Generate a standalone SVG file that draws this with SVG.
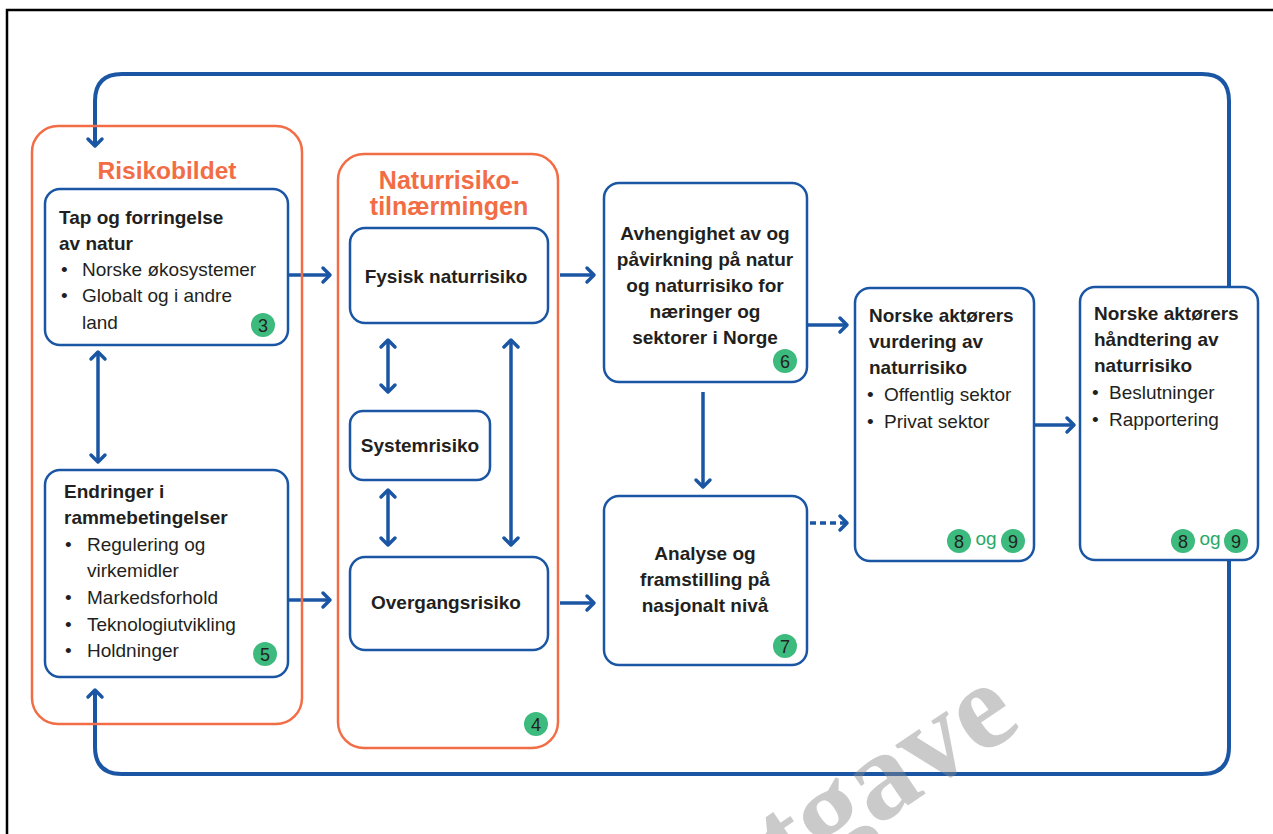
<svg xmlns="http://www.w3.org/2000/svg" width="1273" height="834" viewBox="0 0 1273 834">
<defs>
<style>
.frame{fill:none;stroke:#000;stroke-width:2.5}
.og{fill:none;stroke:#f26d45;stroke-width:2.5}
.bx{fill:#fff;stroke:#1b56a4;stroke-width:2.5}
.ln{fill:none;stroke:#1b56a4;stroke-width:3.5}
.loop{fill:none;stroke:#1b56a4;stroke-width:4}
.t{font-family:"Liberation Sans",Arial,sans-serif;font-size:19px;fill:#231f20}
.b{font-weight:bold}
.c{text-anchor:middle}
.ot{font-family:"Liberation Sans",Arial,sans-serif;font-weight:bold;fill:#f26d45;text-anchor:middle}
.badge{fill:#3dba7e}
.bn{font-family:"Liberation Sans",Arial,sans-serif;font-size:18px;fill:#231f20;text-anchor:middle}
.ogt{font-family:"Liberation Sans",Arial,sans-serif;font-size:19px;fill:#2aa866;text-anchor:middle}
.wm{font-family:"Liberation Serif","Times New Roman",serif;font-weight:bold;font-size:124px;fill:#8a8a8a;fill-opacity:0.45}
</style>
<marker id="ah" markerUnits="userSpaceOnUse" viewBox="-10 -10 14 20" markerWidth="14" markerHeight="20" refX="0" refY="0" orient="auto-start-reverse">
<path d="M-7,-7 L0,0 L-7,7" fill="none" stroke="#1b56a4" stroke-width="3.5" stroke-linecap="round" stroke-linejoin="round"/>
</marker>
</defs>
<rect width="1273" height="834" fill="#fff"/>
<path class="frame" d="M7,840 L7,10 L1280,10"/>

<g id="connectors">
<path class="loop" d="M1229,300 L1229,101 Q1229,74 1202,74 L122,74 Q95,74 95,101 L95,146" marker-end="url(#ah)"/>
<path class="loop" d="M1229,550 L1229,747 Q1229,774 1202,774 L122,774 Q95,774 95,747 L95,690" marker-end="url(#ah)"/>
<line class="ln" x1="98" y1="352" x2="98" y2="462" marker-start="url(#ah)" marker-end="url(#ah)"/>
<line class="ln" x1="288" y1="275" x2="330" y2="275" marker-end="url(#ah)"/>
<line class="ln" x1="288" y1="600" x2="330" y2="600" marker-end="url(#ah)"/>
<line class="ln" x1="388" y1="340" x2="388" y2="392" marker-start="url(#ah)" marker-end="url(#ah)"/>
<line class="ln" x1="388" y1="490" x2="388" y2="545" marker-start="url(#ah)" marker-end="url(#ah)"/>
<line class="ln" x1="511" y1="340" x2="511" y2="545" marker-start="url(#ah)" marker-end="url(#ah)"/>
<line class="ln" x1="560" y1="275" x2="594" y2="275" marker-end="url(#ah)"/>
<line class="ln" x1="560" y1="603" x2="594" y2="603" marker-end="url(#ah)"/>
<line class="ln" x1="703" y1="392" x2="703" y2="487" marker-end="url(#ah)"/>
<line class="ln" x1="808" y1="325" x2="847" y2="325" marker-end="url(#ah)"/>
<line class="ln" x1="810" y1="523" x2="847" y2="523" stroke-dasharray="6,4" marker-end="url(#ah)"/>
<line class="ln" x1="1035" y1="425" x2="1074" y2="425" marker-end="url(#ah)"/>
</g>

<g id="risikobildet">
<rect class="og" x="32" y="126" width="270" height="598" rx="26"/>
<text class="ot" x="167" y="179" font-size="24.5">Risikobildet</text>
</g>

<g id="tap">
<rect class="bx" x="45" y="189" width="243" height="156" rx="15"/>
<text class="t b" x="59" y="224">Tap og forringelse</text>
<text class="t b" x="59" y="250">av natur</text>
<text class="t" x="61" y="276">•</text><text class="t" x="82" y="276">Norske økosystemer</text>
<text class="t" x="61" y="302">•</text><text class="t" x="82" y="302">Globalt og i andre</text>
<text class="t" x="82" y="329">land</text>
<circle class="badge" cx="263" cy="325" r="12"/><text class="bn" x="263" y="331.5">3</text>
</g>

<g id="endringer">
<rect class="bx" x="45" y="470" width="243" height="207" rx="15"/>
<text class="t b" x="64" y="498">Endringer i</text>
<text class="t b" x="64" y="524">rammebetingelser</text>
<text class="t" x="65" y="551">•</text><text class="t" x="87" y="551">Regulering og</text>
<text class="t" x="87" y="577">virkemidler</text>
<text class="t" x="65" y="604">•</text><text class="t" x="87" y="604">Markedsforhold</text>
<text class="t" x="65" y="631">•</text><text class="t" x="87" y="631">Teknologiutvikling</text>
<text class="t" x="65" y="657">•</text><text class="t" x="87" y="657">Holdninger</text>
<circle class="badge" cx="265" cy="654" r="12"/><text class="bn" x="265" y="660.5">5</text>
</g>

<g id="naturrisiko">
<rect class="og" x="338" y="154" width="220" height="594" rx="26"/>
<text class="ot" x="449" y="189" font-size="25">Naturrisiko-</text>
<text class="ot" x="449" y="215" font-size="25">tilnærmingen</text>
<circle class="badge" cx="536" cy="724" r="12"/><text class="bn" x="536" y="730.5">4</text>
</g>

<g id="fysisk">
<rect class="bx" x="350" y="228" width="198" height="95" rx="15"/>
<text class="t b c" x="446" y="283">Fysisk naturrisiko</text>
</g>

<g id="system">
<rect class="bx" x="350" y="411" width="140" height="69" rx="13"/>
<text class="t b c" x="420" y="452">Systemrisiko</text>
</g>

<g id="overgang">
<rect class="bx" x="350" y="557" width="198" height="93" rx="15"/>
<text class="t b c" x="446" y="609">Overgangsrisiko</text>
</g>

<g id="avhengighet">
<rect class="bx" x="604" y="183" width="203" height="199" rx="15"/>
<text class="t b c" x="705" y="240">Avhengighet av og</text>
<text class="t b c" x="705" y="266">påvirkning på natur</text>
<text class="t b c" x="705" y="292">og naturrisiko for</text>
<text class="t b c" x="705" y="318">næringer og</text>
<text class="t b c" x="705" y="344">sektorer i Norge</text>
<circle class="badge" cx="785" cy="361" r="12"/><text class="bn" x="785" y="367.5">6</text>
</g>

<g id="analyse">
<rect class="bx" x="604" y="496" width="203" height="169" rx="15"/>
<text class="t b c" x="705" y="560">Analyse og</text>
<text class="t b c" x="705" y="586">framstilling på</text>
<text class="t b c" x="705" y="612">nasjonalt nivå</text>
<circle class="badge" cx="785" cy="646" r="12"/><text class="bn" x="785" y="652.5">7</text>
</g>

<g id="vurdering">
<rect class="bx" x="855" y="288" width="179" height="273" rx="15"/>
<text class="t b" x="869" y="322">Norske aktørers</text>
<text class="t b" x="869" y="348">vurdering av</text>
<text class="t b" x="869" y="374">naturrisiko</text>
<text class="t" x="867" y="401">•</text><text class="t" x="884" y="401">Offentlig sektor</text>
<text class="t" x="867" y="428">•</text><text class="t" x="884" y="428">Privat sektor</text>
<circle class="badge" cx="959" cy="541" r="12"/><text class="bn" x="959" y="547.5">8</text>
<text class="ogt" x="986" y="545">og</text>
<circle class="badge" cx="1013" cy="541" r="12"/><text class="bn" x="1013" y="547.5">9</text>
</g>

<g id="handtering">
<rect class="bx" x="1080" y="287" width="178" height="273" rx="15"/>
<text class="t b" x="1094" y="320">Norske aktørers</text>
<text class="t b" x="1094" y="346">håndtering av</text>
<text class="t b" x="1094" y="372">naturrisiko</text>
<text class="t" x="1092" y="399">•</text><text class="t" x="1109" y="399">Beslutninger</text>
<text class="t" x="1092" y="426">•</text><text class="t" x="1109" y="426">Rapportering</text>
<circle class="badge" cx="1183" cy="541" r="12"/><text class="bn" x="1183" y="547.5">8</text>
<text class="ogt" x="1210" y="545">og</text>
<circle class="badge" cx="1236" cy="541" r="12"/><text class="bn" x="1236" y="547.5">9</text>
</g>

<text class="wm" transform="translate(790,885) rotate(-34)">tgave</text>
</svg>
